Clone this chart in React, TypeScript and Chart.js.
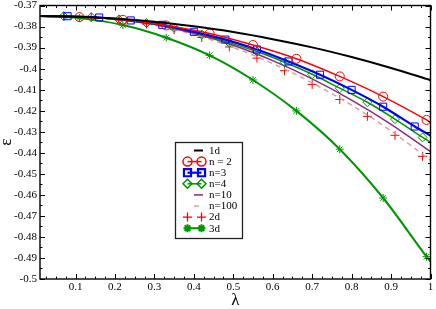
import React, { useEffect, useRef } from "react";
import { Chart, registerables } from "chart.js";
import { drawPoint } from "chart.js/helpers";

Chart.register(...registerables);

const FONT = "'Liberation Serif', 'Times New Roman', serif";

// ---- tick labels ----
const X_TICKS = [0.1, 0.2, 0.3, 0.4, 0.5, 0.6, 0.7, 0.8, 0.9, 1.0];
const Y_TICKS = [-0.37, -0.38, -0.39, -0.4, -0.41, -0.42, -0.43, -0.44, -0.45, -0.46, -0.47, -0.48, -0.49, -0.5];

// ---- series ----
const X_1D = [0.01, 0.1, 0.2, 0.3, 0.4, 0.5, 0.6, 0.7, 0.8, 0.9, 1.0];
const Y_1D = [-0.375, -0.3753, -0.3762, -0.3777, -0.3799, -0.3826, -0.386, -0.3899, -0.3945, -0.3997, -0.4055];

const X_N2 = [0.01, 0.11, 0.22, 0.33, 0.44, 0.55, 0.66, 0.77, 0.88, 0.99, 1.0];
const Y_N2 = [-0.375, -0.3755, -0.3768, -0.3795, -0.3833, -0.3888, -0.3953, -0.4037, -0.4133, -0.4244, -0.4255];

const X_N3 = [0.01, 0.08, 0.16, 0.24, 0.32, 0.4, 0.48, 0.56, 0.64, 0.72, 0.8, 0.88, 0.96, 1.0];
const Y_N3 = [-0.375, -0.3751, -0.3757, -0.3771, -0.3792, -0.3825, -0.3862, -0.3909, -0.3966, -0.4029, -0.4101, -0.4181, -0.4275, -0.4318];

const X_N4 = [0.01, 0.07, 0.14, 0.21, 0.28, 0.35, 0.42, 0.49, 0.56, 0.63, 0.7, 0.77, 0.84, 0.91, 0.98, 1.0];
const Y_N4 = [-0.375, -0.3751, -0.3755, -0.3766, -0.3783, -0.3806, -0.3838, -0.3877, -0.3919, -0.397, -0.4027, -0.4093, -0.416, -0.424, -0.4327, -0.435];

const X_N10 = [0.01, 0.1, 0.2, 0.3, 0.4, 0.5, 0.6, 0.7, 0.8, 0.9, 1.0];
const Y_N10 = [-0.375, -0.3753, -0.3765, -0.379, -0.3832, -0.3889, -0.3962, -0.4049, -0.415, -0.4265, -0.4395];

const X_N100 = [0.01, 0.1, 0.2, 0.3, 0.4, 0.5, 0.6, 0.7, 0.8, 0.9, 1.0];
const Y_N100 = [-0.375, -0.3753, -0.3766, -0.3793, -0.3838, -0.3899, -0.3976, -0.4068, -0.4174, -0.4296, -0.4436];

const X_2D = [0.07, 0.14, 0.21, 0.28, 0.35, 0.42, 0.49, 0.56, 0.63, 0.7, 0.77, 0.84, 0.91, 0.98];
const Y_2D = [-0.3751, -0.3757, -0.3769, -0.3788, -0.3815, -0.3852, -0.3897, -0.395, -0.401, -0.4075, -0.4147, -0.4227, -0.4317, -0.4417];

const X_3D = [0.01, 0.11, 0.22, 0.33, 0.44, 0.55, 0.66, 0.77, 0.88, 0.99, 1.0];
const Y_3D = [-0.375, -0.376, -0.3793, -0.3853, -0.3937, -0.4054, -0.4201, -0.4383, -0.4615, -0.4894, -0.4918];

const pts = (xs: number[], ys: number[]) => xs.map((x, i) => ({ x, y: ys[i] }));

// markers only on inner points (ends are line-only)
const inner = (r: number) => (c: any) => {
  const last = c.dataset.data.length - 1;
  return c.dataIndex === 0 || c.dataIndex === last ? 0 : r;
};

const RED = "#ff0000";
const BLUE = "#0000ff";
const GREEN = "#009400";
const PURPLE = "#862a86";
const ROSE = "#d4a0a0";

const frameTicksPlugin = {
  id: "frameTicks",
  afterDraw(chart: any) {
    const { ctx, chartArea: a } = chart;
    const xs = chart.scales.x;
    const ys = chart.scales.y;
    ctx.save();
    ctx.strokeStyle = "#000";
    ctx.lineWidth = 1.4;
    ctx.strokeRect(a.left, a.top, a.right - a.left, a.bottom - a.top);
    ctx.lineWidth = 1;
    const MAJ = 5, MIN = 2.5;
    ctx.beginPath();
    // x ticks (bottom & top), minor every 0.025
    for (let k = 1; k <= 40; k++) {
      const v = k * 0.025;
      if (v < xs.min - 1e-9 || v > xs.max + 1e-9) continue;
      const major = k % 4 === 0;
      const L = major ? MAJ : MIN;
      const px = Math.round(xs.getPixelForValue(v)) + 0.5;
      ctx.moveTo(px, a.bottom); ctx.lineTo(px, a.bottom - L);
      ctx.moveTo(px, a.top); ctx.lineTo(px, a.top + L);
    }
    // y ticks (left & right), minor every 0.005
    for (let k = 74; k <= 100; k++) {
      const v = -k * 0.005;
      const major = k % 2 === 0;
      const L = major ? MAJ : MIN;
      const py = Math.round(ys.getPixelForValue(v)) + 0.5;
      ctx.moveTo(a.left, py); ctx.lineTo(a.left + L, py);
      ctx.moveTo(a.right, py); ctx.lineTo(a.right - L, py);
    }
    ctx.stroke();

    // legend box
    const bx = 175.5, by = 142.5, bw = 67, bh = 96;
    ctx.fillStyle = "#fff";
    ctx.fillRect(bx, by, bw, bh);
    ctx.strokeStyle = "#222";
    ctx.lineWidth = 1.3;
    ctx.strokeRect(bx, by, bw, bh);
    chart.data.datasets.forEach((ds: any, i: number) => {
      const y = 150.5 + i * 11.1;
      const mk = ds.mk;
      ctx.save();
      if (ds.showLine !== false) {
        ctx.strokeStyle = ds.borderColor;
        ctx.lineWidth = ds.borderWidth;
        ctx.setLineDash(ds.borderDash || []);
        ctx.beginPath();
        if (mk) { ctx.moveTo(187.5, y); ctx.lineTo(201.5, y); }
        else { ctx.moveTo(194, y); ctx.lineTo(203, y); }
        ctx.stroke();
        ctx.setLineDash([]);
      }
      if (mk) {
        ctx.strokeStyle = ds.pointBorderColor;
        ctx.fillStyle = "rgba(0,0,0,0)";
        for (const px of [187.5, 201.5]) {
          drawPoint(ctx, { pointStyle: mk.style, radius: mk.r, borderWidth: ds.pointBorderWidth, rotation: 0 }, px, y);
        }
      }
      ctx.restore();
      ctx.fillStyle = "#000";
      ctx.font = `11px ${FONT}`;
      ctx.textBaseline = "middle";
      ctx.textAlign = "left";
      ctx.fillText(ds.label, 209, y + 0.5);
    });
    ctx.restore();
  },
};

export default function App() {
  const ref = useRef<HTMLCanvasElement | null>(null);
  useEffect(() => {
    if (!ref.current) return;
    const lineBase = { fill: false, cubicInterpolationMode: "monotone" as const, pointHitRadius: 0 };
    const chart = new Chart(ref.current, {
      type: "line",
      data: {
        datasets: [
          { ...lineBase, label: "1d", data: pts(X_1D, Y_1D), borderColor: "#000", borderWidth: 2, pointRadius: 0 },
          {
            ...lineBase, label: "n = 2", data: pts(X_N2, Y_N2), borderColor: RED, borderWidth: 1.5,
            pointStyle: "circle", pointRadius: inner(4.5), pointBorderColor: RED, pointBackgroundColor: "rgba(0,0,0,0)", pointBorderWidth: 1,
            mk: { style: "circle", r: 4.5 },
          },
          {
            ...lineBase, label: "n=3", data: pts(X_N3, Y_N3), borderColor: BLUE, borderWidth: 2.2,
            pointStyle: "rect", pointRadius: inner(5), pointBorderColor: BLUE, pointBackgroundColor: "rgba(0,0,0,0)", pointBorderWidth: 1,
            mk: { style: "rect", r: 5 },
          },
          {
            ...lineBase, label: "n=4", data: pts(X_N4, Y_N4), borderColor: GREEN, borderWidth: 1.5,
            pointStyle: "rectRot", pointRadius: inner(4.5), pointBorderColor: GREEN, pointBackgroundColor: "rgba(0,0,0,0)", pointBorderWidth: 1,
            mk: { style: "rectRot", r: 4.5 },
          },
          { ...lineBase, label: "n=10", data: pts(X_N10, Y_N10), borderColor: PURPLE, borderWidth: 1.5, pointRadius: 0 },
          { ...lineBase, label: "n=100", data: pts(X_N100, Y_N100), borderColor: ROSE, borderWidth: 1.5, borderDash: [5, 4], pointRadius: 0 },
          {
            ...lineBase, label: "2d", data: pts(X_2D, Y_2D), showLine: false, borderColor: RED, borderWidth: 1,
            pointStyle: "cross", pointRadius: 4.5, pointBorderColor: RED, pointBorderWidth: 1,
            mk: { style: "cross", r: 4.5 },
          },
          {
            ...lineBase, label: "3d", data: pts(X_3D, Y_3D), borderColor: GREEN, borderWidth: 2,
            pointStyle: "star", pointRadius: inner(4), pointBorderColor: GREEN, pointBorderWidth: 1,
            mk: { style: "star", r: 4 },
          },
        ] as any,
      },
      options: {
        animation: false,
        responsive: false,
        events: [],
        layout: { padding: { top: 5, right: 4, left: 0, bottom: 0 } },
        plugins: { legend: { display: false }, tooltip: { enabled: false } },
        scales: {
          x: {
            type: "linear",
            min: 0.01,
            max: 1,
            grid: { display: false, drawTicks: false },
            border: { display: false },
            afterBuildTicks: (s: any) => { s.ticks = X_TICKS.map((v) => ({ value: v })); },
            afterFit: (s: any) => { s.height = 30; s.paddingLeft = 0; s.paddingRight = 0; },
            ticks: {
              autoSkip: false, maxRotation: 0, padding: 2, color: "#000",
              font: { family: FONT, size: 11 },
              callback: (v: any) => String(+Number(v).toFixed(2)),
            },
            title: { display: true, text: "λ", color: "#000", font: { family: FONT, size: 17, lineHeight: 1 }, padding: { top: 0, bottom: 0 } },
          },
          y: {
            type: "linear",
            min: -0.5,
            max: -0.37,
            grid: { display: false, drawTicks: false },
            border: { display: false },
            afterBuildTicks: (s: any) => { s.ticks = Y_TICKS.map((v) => ({ value: v })); },
            afterFit: (s: any) => { s.width = 40; s.paddingTop = 0; s.paddingBottom = 0; },
            ticks: {
              autoSkip: false, padding: 3, color: "#000",
              font: { family: FONT, size: 11 },
              callback: (v: any) => String(+Number(v).toFixed(2)),
            },
            title: { display: true, text: "ε", color: "#000", font: { family: FONT, size: 17, lineHeight: 1 }, padding: { top: -2, bottom: 0 } },
          },
        },
      },
      plugins: [frameTicksPlugin],
    });
    return () => chart.destroy();
  }, []);
  return (
    <div style={{ position: "fixed", left: 0, top: 0, width: 436, height: 309, background: "#fff" }}>
      <canvas ref={ref} width={436} height={309} style={{ display: "block" }} />
    </div>
  );
}
